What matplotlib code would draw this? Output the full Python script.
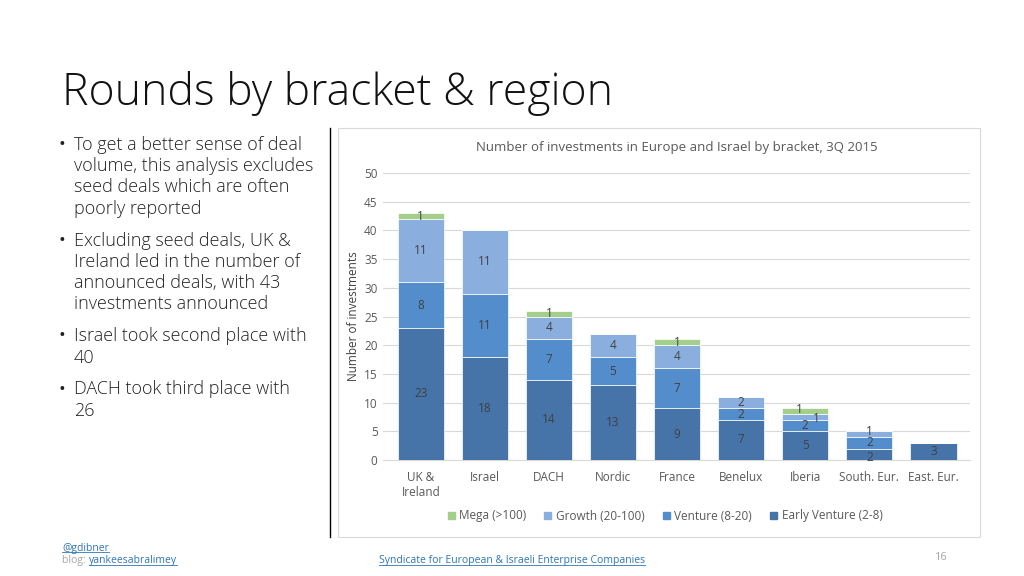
import matplotlib.pyplot as plt
from matplotlib.lines import Line2D
from matplotlib.patches import Rectangle, Patch

regions = ['UK &\nIreland', 'Israel', 'DACH', 'Nordic', 'France', 'Benelux',
           'Iberia', 'South. Eur.', 'East. Eur.']
early = [23, 18, 14, 13, 9, 7, 5, 2, 3]
venture = [8, 11, 7, 5, 7, 2, 2, 2, 0]
growth = [11, 11, 4, 4, 4, 2, 1, 1, 0]
mega = [1, 0, 1, 0, 1, 0, 1, 0, 0]

series = [('Early Venture (2-8)', early, '#4674a9'),
          ('Venture (8-20)', venture, '#548dcc'),
          ('Growth (20-100)', growth, '#8aafdf'),
          ('Mega (>100)', mega, '#a3cf8a')]

bullets = [
    'To get a better sense of deal\nvolume, this analysis excludes\nseed deals which are often\npoorly reported',
    'Excluding seed deals, UK &\nIreland led in the number of\nannounced deals, with 43\ninvestments announced',
    'Israel took second place with\n40',
    'DACH took third place with\n26',
]

# nudges (points) for crowded value labels: (series name, bar index) -> (dx, dy)
nudge = {('Mega (>100)', 6): (-4, 1), ('Growth (20-100)', 6): (8, -1),
         ('Growth (20-100)', 7): (0, 2), ('Early Venture (2-8)', 7): (0, -2)}

plt.rcParams['font.family'] = ['Open Sans', 'DejaVu Sans']
fig = plt.figure(figsize=(10.24, 5.76), dpi=100)

# slide title
fig.text(62 / 1024, 1 - 93 / 576, 'Rounds by bracket & region', fontsize=32,
         fontweight='light', color='#111111', va='center', ha='left')

# bullets
y = 136
for b in bullets:
    fig.text(58 / 1024, 1 - y / 576, '\u2022', fontsize=13, color='#222222', va='top')
    fig.text(74 / 1024, 1 - y / 576, b, fontsize=13, color='#222222', va='top',
             linespacing=1.23, fontweight='light')
    y += 21.3 * (b.count('\n') + 1) + 10.5

# separator line
fig.add_artist(Line2D([330 / 1024, 330 / 1024], [1 - 128 / 576, 1 - 537 / 576],
                      color='black', lw=1))

# chart frame
fig.add_artist(Rectangle((338 / 1024, 1 - 537 / 576), 642 / 1024, 409 / 576,
                         transform=fig.transFigure, fill=False,
                         edgecolor='#d9d9d9', lw=0.8))

ax = fig.add_axes([383 / 1024, 1 - 460 / 576, 587 / 1024, 287 / 576])
x = list(range(len(regions)))
bottom = [0] * len(regions)
for name, vals, col in series:
    ax.bar(x, vals, 0.72, bottom=bottom, color=col, label=name,
           edgecolor='white', linewidth=0.5, zorder=3)
    for i, v in enumerate(vals):
        if v:
            dx, dy = nudge.get((name, i), (0, 0))
            ax.annotate(str(v), (i, bottom[i] + v / 2), xytext=(dx, dy),
                        textcoords='offset points', ha='center', va='center',
                        fontsize=8.5, color='#404040', zorder=4)
    bottom = [b + v for b, v in zip(bottom, vals)]

ax.set_xlim(-0.59, 8.57)
ax.set_ylim(0, 50)
ax.set_yticks(range(0, 51, 5))
ax.set_xticks(x)
ax.set_xticklabels(regions)
ax.grid(axis='y', color='#d9d9d9', lw=0.8, zorder=0)
for s in ['top', 'right', 'left']:
    ax.spines[s].set_visible(False)
ax.spines['bottom'].set_color('#d9d9d9')
ax.tick_params(axis='x', length=0, labelsize=8.5, labelcolor='#595959', pad=8)
ax.tick_params(axis='y', length=0, labelsize=8.5, labelcolor='#595959', pad=4)
ax.set_ylabel('Number of investments', fontsize=8.5, color='#404040', labelpad=3)
ax.set_title('Number of investments in Europe and Israel by bracket, 3Q 2015',
             fontsize=9.5, color='#595959', pad=16)

handles = [Patch(color=c) for _, _, c in series[::-1]]
labels = [n for n, _, _ in series[::-1]]
fig.legend(handles, labels, loc='center', bbox_to_anchor=(665 / 1024, 1 - 516 / 576),
           ncol=4, frameon=False, fontsize=8.5, handlelength=0.6, handleheight=0.6,
           columnspacing=1.5, handletextpad=0.4, labelcolor='#595959')

# footer
fig.canvas.draw()
rend = fig.canvas.get_renderer()


def link(xp, yp, s, ha='left', size=7.5):
    t = fig.text(xp / 1024, 1 - yp / 576, s, fontsize=size, color='#2e75b6',
                 ha=ha, va='center')
    bb = t.get_window_extent(rend).transformed(fig.transFigure.inverted())
    fig.add_artist(Line2D([bb.x0, bb.x1], [bb.y0 + 0.003, bb.y0 + 0.003],
                          color='#2e75b6', lw=0.6))
    return bb


link(62, 548, '@gdibner')
t = fig.text(62 / 1024, 1 - 561 / 576, 'blog: ', fontsize=7.5, color='#a6a6a6', va='center')
bb = t.get_window_extent(rend).transformed(fig.transFigure.inverted())
link(bb.x1 * 1024, 561, 'yankeesabralimey')
link(512, 561, 'Syndicate for European & Israeli Enterprise Companies', ha='center')
fig.text(940 / 1024, 1 - 558 / 576, '16', fontsize=8, color='#a6a6a6', ha='center', va='center')

fig.savefig('out.png', dpi=100)
